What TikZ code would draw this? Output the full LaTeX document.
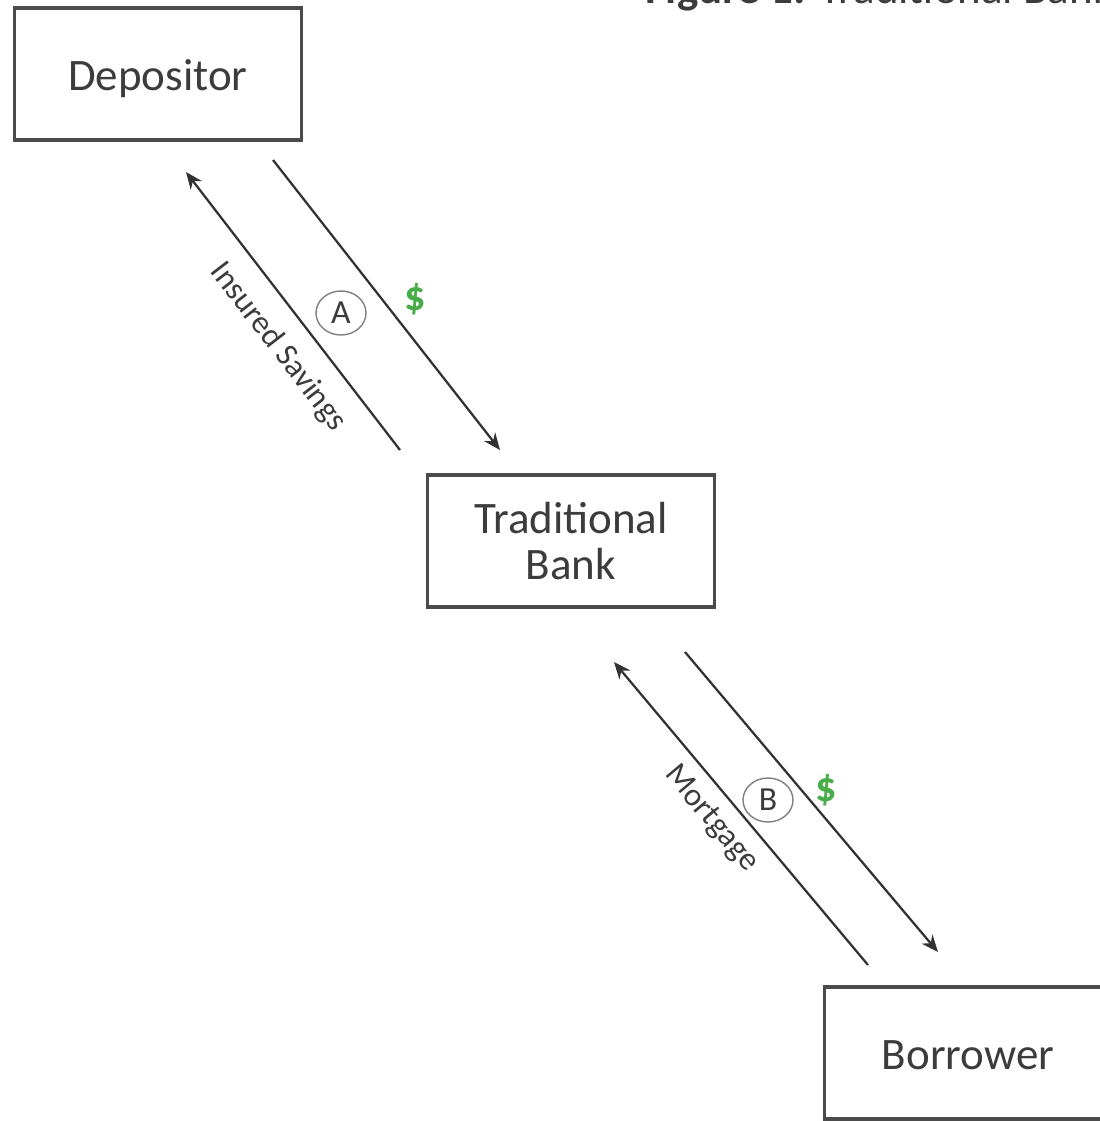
\documentclass[tikz,border=0pt]{standalone}
\usepackage{fontspec}
\setmainfont{Carlito}
\usetikzlibrary{arrows.meta}
\usetikzlibrary{shapes.geometric}
\definecolor{boxgray}{RGB}{75,75,75}
\definecolor{textgray}{RGB}{60,60,60}
\definecolor{linegray}{RGB}{50,50,50}
\definecolor{dollargreen}{RGB}{72,172,72}

\begin{document}
\begin{tikzpicture}[x=0.025cm, y=-0.025cm,
        party/.style={draw=boxgray, line width=2.6pt, fill=white, minimum width=7.175cm, minimum height=3.3cm, align=center, text=textgray, font=\fontsize{32}{33}\selectfont},
        oneline/.style={text height=1.05cm, text depth=0.24cm},
        flow/.style={draw=linegray, line width=1.6pt, -{Stealth[length=12pt, width=10pt]}},
        tag/.style={draw=gray, line width=1pt, ellipse, minimum width=1.25cm, minimum height=1.1cm, inner sep=0pt, text=textgray, font=\fontsize{24}{24}\selectfont},
        money/.style={text=dollargreen, font=\fontsize{30}{30}\selectfont\bfseries},
        flowlabel/.style={text=textgray, font=\fontsize{23}{23}\selectfont}]
        \useasboundingbox (0,0) rectangle (1100,1121);
        \clip (0,0) rectangle (1100,1121);

        % Title (cut off by the frame)
        \node[anchor=base west, inner sep=0pt, text=textgray, font=\fontsize{32}{33}\selectfont] (title) at (645,3) {\textbf{Figure 1:} Traditional Banking};

        % Parties
        \node[party, oneline] (depositor) at (158,74) {Depositor};
        \node[party] (bank) at (571,541) {Traditional\\Bank};
        \node[party, oneline] (borrower) at (968,1053) {Borrower};

        % Flow A: depositor <-> bank
        \coordinate (a1) at (400,450);
        \coordinate (a2) at (186,172);
        \coordinate (a3) at (273,160);
        \coordinate (a4) at (500,450);
        \draw[flow] (a1) -- (a2);
        \draw[flow] (a3) -- (a4);
        \node[flowlabel, rotate=-52.4] (savings) at (278,347) {Insured Savings};
        \node[tag] (tagA) at (341,313) {A};
        \node[money] (dollarA) at (415,299) {\$};

        % Flow B: bank <-> borrower
        \coordinate (b1) at (868,965);
        \coordinate (b2) at (614,662);
        \coordinate (b3) at (685,652);
        \coordinate (b4) at (938,952);
        \draw[flow] (b1) -- (b2);
        \draw[flow] (b3) -- (b4);
        \node[flowlabel, rotate=-50] (mortgage) at (711,819) {Mortgage};
        \node[tag] (tagB) at (768,800) {B};
        \node[money] (dollarB) at (826,790) {\$};
    \end{tikzpicture}
\end{document}
